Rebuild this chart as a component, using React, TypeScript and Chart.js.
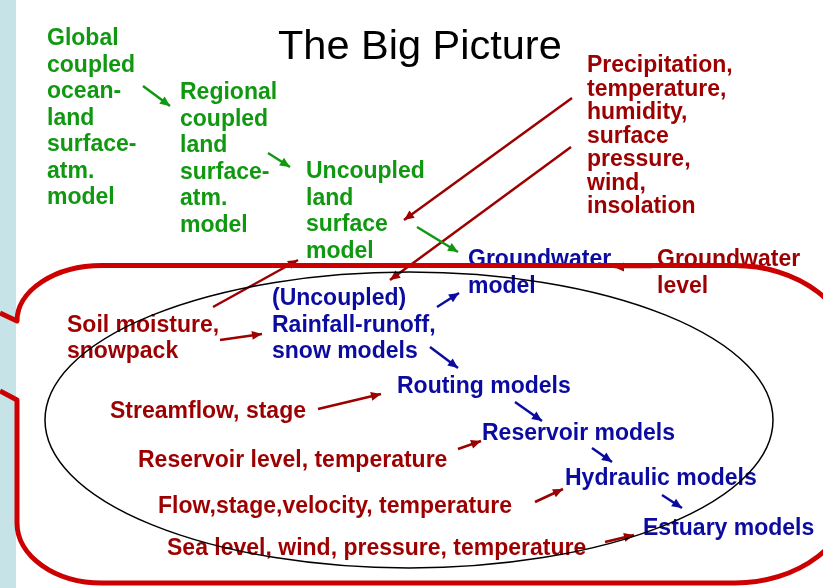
import React, { useEffect, useRef } from "react";
import { Chart, registerables } from "chart.js";

Chart.register(...registerables);

const W = 823;
const H = 588;

const GREEN = "#109810";
const RED = "#9c0000";
const BLUE = "#0b0ba0";
const BORDER = "#cc0000";
const STRIP = "#c6e3e8";

const titleText = "The Big Picture";
const titleX = 278;
const titleY = 59;

const labelLines: string[][] = [
  ["Global", "coupled", "ocean-", "land", "surface-", "atm.", "model"],
  ["Regional", "coupled", "land", "surface-", "atm.", "model"],
  ["Uncoupled", "land", "surface", "model"],
  ["Precipitation,", "temperature,", "humidity,", "surface", "pressure,", "wind,", "insolation"],
  ["Groundwater", "model"],
  ["Groundwater", "level"],
  ["(Uncoupled)", "Rainfall-runoff,", "snow models"],
  ["Soil moisture,", "snowpack"],
  ["Routing models"],
  ["Streamflow, stage"],
  ["Reservoir models"],
  ["Reservoir level, temperature"],
  ["Hydraulic models"],
  ["Flow,stage,velocity, temperature"],
  ["Estuary models"],
  ["Sea level, wind, pressure, temperature"],
];
const labelX = [47, 180, 306, 587, 468, 657, 272, 67, 397, 110, 482, 138, 565, 158, 643, 167];
const labelY = [45, 99, 178, 72, 266, 266, 305, 332, 393, 418, 440, 467, 485, 513, 535, 555];
const labelGap = [26.5, 26.5, 26.5, 23.5, 27, 27, 26.5, 26, 0, 0, 0, 0, 0, 0, 0, 0];
const labelColor = [GREEN, GREEN, GREEN, RED, BLUE, RED, BLUE, RED, BLUE, RED, BLUE, RED, BLUE, RED, BLUE, RED];

const arrowFrom: [number, number][] = [
  [143, 86], [268, 153], [417, 227], [572, 98], [571, 147], [213, 307], [220, 340],
  [437, 307], [430, 347], [318, 409], [515, 402], [458, 449], [535, 502],
  [592, 448], [662, 495], [605, 542], [652, 267],
];
const arrowTo: [number, number][] = [
  [170, 106], [290, 167], [458, 252], [404, 220], [390, 280], [298, 260], [262, 334],
  [459, 293], [458, 368], [381, 394], [542, 421], [481, 441], [563, 489],
  [612, 462], [682, 508], [634, 535], [614, 267],
];
const arrowColor = [
  GREEN, GREEN, GREEN, RED, RED, RED, RED,
  BLUE, BLUE, RED, BLUE, RED, RED,
  BLUE, BLUE, RED, RED,
];

// ellipse: center, radii
const ovalCenter = [409, 420];
const ovalRadius = [364, 148];

// callout outline
const boxLeft = 17;
const boxTop = 265.5;
const boxBottom = 583;
const boxRight = 852;
const notchTop = [313, 321];
const notchBottom = [391, 400];
const cornerTL = [85, 56];
const cornerBL = [85, 60];
const cornerR = [117, 90];

export default function App() {
  const ref = useRef<HTMLCanvasElement | null>(null);

  useEffect(() => {
    if (!ref.current) return;

    const backPlugin = {
      id: "backLayer",
      beforeDatasetsDraw(chart: any) {
        const ctx = chart.ctx;
        const xs = chart.scales.x;
        const ys = chart.scales.y;
        const px = (v: number) => xs.getPixelForValue(v);
        const py = (v: number) => ys.getPixelForValue(v);
        ctx.save();
        ctx.fillStyle = STRIP;
        ctx.fillRect(px(0), py(0), px(16) - px(0), py(H) - py(0));
        ctx.fillStyle = "#000";
        ctx.textBaseline = "alphabetic";
        ctx.textAlign = "left";
        ctx.font = "41.5px 'Liberation Sans', Arial, sans-serif";
        ctx.fillText(titleText, px(titleX), py(titleY));
        ctx.font = "bold 23px 'Liberation Sans', Arial, sans-serif";
        labelLines.forEach((lines, i) => {
          ctx.fillStyle = labelColor[i];
          lines.forEach((t, j) => {
            ctx.fillText(t, px(labelX[i]), py(labelY[i] + j * labelGap[i]));
          });
        });
        ctx.restore();
      },
    };

    const frontPlugin = {
      id: "frontLayer",
      afterDatasetsDraw(chart: any) {
        const ctx = chart.ctx;
        const xs = chart.scales.x;
        const ys = chart.scales.y;
        const px = (v: number) => xs.getPixelForValue(v);
        const py = (v: number) => ys.getPixelForValue(v);
        ctx.save();
        // arrowheads
        chart.data.datasets.forEach((ds: any, i: number) => {
          const meta = chart.getDatasetMeta(i);
          const a = meta.data[0];
          const b = meta.data[1];
          if (!a || !b) return;
          const ang = Math.atan2(b.y - a.y, b.x - a.x);
          const len = 10;
          const hw = 4.5;
          ctx.fillStyle = ds.borderColor;
          ctx.beginPath();
          ctx.moveTo(b.x, b.y);
          ctx.lineTo(b.x - len * Math.cos(ang) + hw * Math.sin(ang), b.y - len * Math.sin(ang) - hw * Math.cos(ang));
          ctx.lineTo(b.x - len * Math.cos(ang) - hw * Math.sin(ang), b.y - len * Math.sin(ang) + hw * Math.cos(ang));
          ctx.closePath();
          ctx.fill();
        });
        // oval
        ctx.strokeStyle = "#000";
        ctx.lineWidth = 1.5;
        ctx.beginPath();
        ctx.ellipse(
          px(ovalCenter[0]), py(ovalCenter[1]),
          Math.abs(px(ovalCenter[0] + ovalRadius[0]) - px(ovalCenter[0])),
          Math.abs(py(ovalCenter[1] + ovalRadius[1]) - py(ovalCenter[1])),
          0, 0, Math.PI * 2
        );
        ctx.stroke();
        // callout outline
        const rx = (v: number) => Math.abs(px(v) - px(0));
        const ry = (v: number) => Math.abs(py(v) - py(0));
        ctx.strokeStyle = BORDER;
        ctx.lineWidth = 5;
        ctx.lineJoin = "round";
        ctx.beginPath();
        ctx.moveTo(px(0), py(notchTop[0]));
        ctx.lineTo(px(boxLeft), py(notchTop[1]));
        ctx.ellipse(px(boxLeft + cornerTL[0]), py(notchTop[1]), rx(cornerTL[0]), ry(notchTop[1] - boxTop), 0, Math.PI, Math.PI * 1.5);
        ctx.lineTo(px(boxRight - cornerR[0]), py(boxTop));
        ctx.ellipse(px(boxRight - cornerR[0]), py(boxTop + cornerR[1]), rx(cornerR[0]), ry(cornerR[1]), 0, -Math.PI / 2, 0);
        ctx.lineTo(px(boxRight), py(boxBottom - cornerR[1]));
        ctx.ellipse(px(boxRight - cornerR[0]), py(boxBottom - cornerR[1]), rx(cornerR[0]), ry(cornerR[1]), 0, 0, Math.PI / 2);
        ctx.lineTo(px(boxLeft + cornerBL[0]), py(boxBottom));
        ctx.ellipse(px(boxLeft + cornerBL[0]), py(boxBottom - cornerBL[1]), rx(cornerBL[0]), ry(cornerBL[1]), 0, Math.PI / 2, Math.PI);
        ctx.lineTo(px(boxLeft), py(notchBottom[1]));
        ctx.lineTo(px(0), py(notchBottom[0]));
        ctx.stroke();
        ctx.restore();
      },
    };

    const datasets = arrowFrom.map((f, i) => ({
      data: [
        { x: f[0], y: f[1] },
        { x: arrowTo[i][0], y: arrowTo[i][1] },
      ],
      borderColor: arrowColor[i],
      backgroundColor: arrowColor[i],
      borderWidth: 2.5,
      showLine: true,
      pointRadius: 0,
      pointHoverRadius: 0,
      fill: false,
    }));

    const chart = new Chart(ref.current, {
      type: "scatter",
      data: { datasets },
      options: {
        animation: false,
        responsive: false,
        maintainAspectRatio: false,
        events: [],
        layout: { padding: 0 },
        plugins: { legend: { display: false }, tooltip: { enabled: false } },
        scales: {
          x: { type: "linear", min: 0, max: W, display: false },
          y: { type: "linear", min: 0, max: H, reverse: true, display: false },
        },
      },
      plugins: [backPlugin, frontPlugin],
    } as any);

    return () => chart.destroy();
  }, []);

  return (
    <div style={{ position: "fixed", left: 0, top: 0, width: W, height: H, background: "#fff" }}>
      <canvas ref={ref} width={W} height={H} style={{ display: "block", width: W, height: H }} />
    </div>
  );
}
